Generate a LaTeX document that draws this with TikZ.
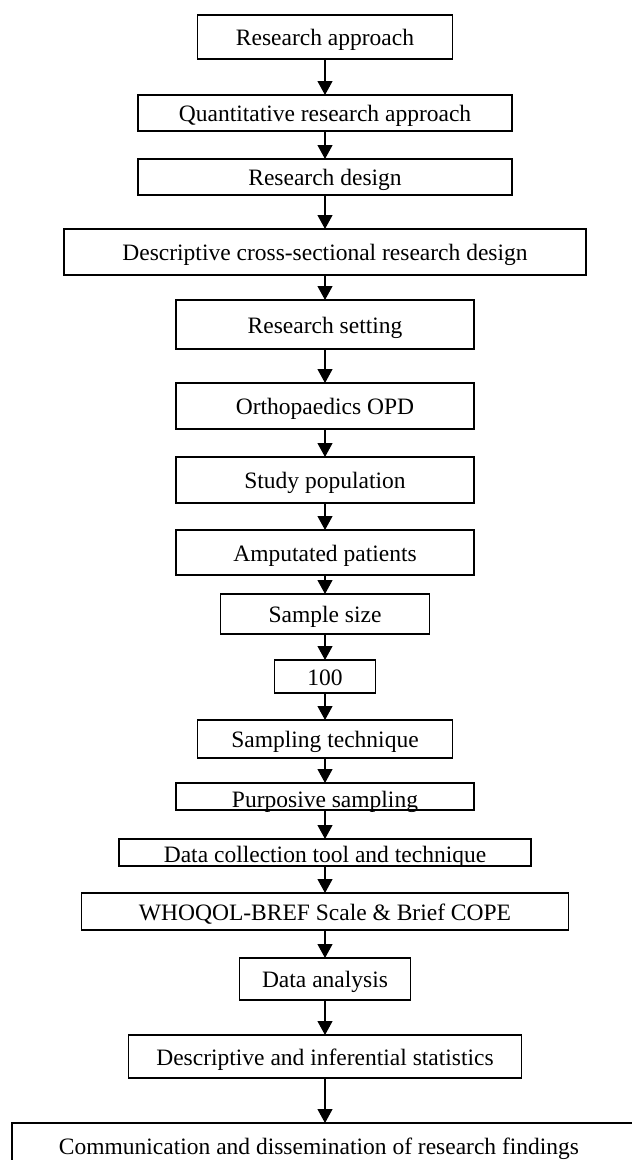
\documentclass[tikz,border=0pt]{standalone}
\usepackage{fontspec}
\setmainfont{Liberation Serif}
\usetikzlibrary{arrows.meta}
\begin{document}
\begin{tikzpicture}[x=1pt,y=-1pt,
  box/.style={draw=black, line width=1.6pt, fill=white, inner sep=0pt, outer sep=0pt,
    font=\fontsize{23.5pt}{27pt}\selectfont, text height=17pt, text depth=0pt, align=center},
  arr/.style={draw=black, line width=1.1pt, -{Triangle[length=14pt,width=15pt]}}
]
\useasboundingbox (0,0) rectangle (632,1160);
\fill[white] (0,0) rectangle (632,1160);
\clip (0,0) rectangle (632,1160);

\node[box, minimum width=255pt, minimum height=44pt] (ra)  at (325,37)    {Research approach};
\node[box, minimum width=374pt, minimum height=36pt] (qra) at (325,113)   {Quantitative research approach};
\node[box, minimum width=374pt, minimum height=36pt] (rd)  at (325,177)   {Research design};
\node[box, minimum width=522pt, minimum height=46pt] (dcs) at (325,252)   {Descriptive cross-sectional research design};
\node[box, minimum width=298pt, minimum height=49pt] (rs)  at (325,324.5) {Research setting};
\node[box, minimum width=298pt, minimum height=46pt] (opd) at (325,406)   {Orthopaedics OPD};
\node[box, minimum width=298pt, minimum height=46pt] (sp)  at (325,480)   {Study population};
\node[box, minimum width=298pt, minimum height=45pt] (ap)  at (325,552.5) {Amputated patients};
\node[box, minimum width=209pt, minimum height=40pt] (ss)  at (325,614)   {Sample size};
\node[box, minimum width=101pt, minimum height=33pt] (n100) at (325,676.5) {100};
\node[box, minimum width=255pt, minimum height=38pt] (st)  at (325,739)   {Sampling technique};
\node[box, minimum width=298pt, minimum height=27pt, text height=22pt] (ps) at (325,796.5) {Purposive sampling};
\node[box, minimum width=412pt, minimum height=27pt, text height=19pt] (dc) at (325,852.5) {Data collection tool and technique};
\node[box, minimum width=487pt, minimum height=37pt] (who) at (325,911.5) {WHOQOL-BREF Scale \& Brief COPE};
\node[box, minimum width=171pt, minimum height=42pt] (da)  at (325,979)   {Data analysis};
\node[box, minimum width=393pt, minimum height=43pt] (dis) at (325,1056.5) {Descriptive and inferential statistics};
\node[box, minimum width=648pt, minimum height=46pt, text height=16pt, anchor=north west] (comm) at (12,1123)
  {Communication and dissemination of research findings\hspace*{34pt}};

\draw[arr] (ra.south) -- (qra.north);
\draw[arr] (qra.south) -- (rd.north);
\draw[arr] (rd.south) -- (dcs.north);
\draw[arr] (dcs.south) -- (rs.north);
\draw[arr] (rs.south) -- (opd.north);
\draw[arr] (opd.south) -- (sp.north);
\draw[arr] (sp.south) -- (ap.north);
\draw[arr] (ap.south) -- (ss.north);
\draw[arr] (ss.south) -- (n100.north);
\draw[arr] (n100.south) -- (st.north);
\draw[arr] (st.south) -- (ps.north);
\draw[arr] (ps.south) -- (dc.north);
\draw[arr] (dc.south) -- (who.north);
\draw[arr] (who.south) -- (da.north);
\draw[arr] (da.south) -- (dis.north);
\draw[arr] (dis.south) -- (dis.south |- comm.north);
\end{tikzpicture}
\end{document}
